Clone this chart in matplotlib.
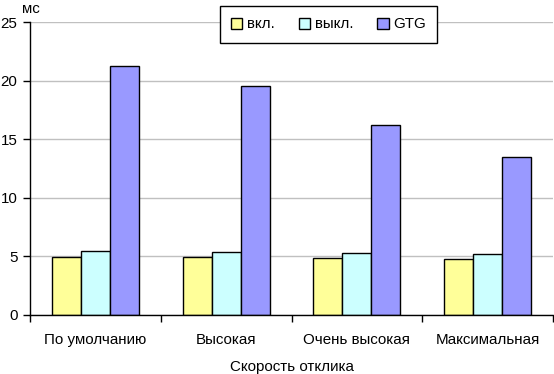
import matplotlib
matplotlib.use("Agg")
import matplotlib.pyplot as plt
import numpy as np

plt.rcParams['font.family'] = ['Liberation Sans', 'DejaVu Sans']

categories = ["По умолчанию", "Высокая", "Очень высокая", "Максимальная"]
series_names = ["вкл.", "выкл.", "GTG"]
vkl = [4.95, 4.95, 4.85, 4.78]
vykl = [5.45, 5.37, 5.28, 5.2]
gtg = [21.25, 19.55, 16.25, 13.5]
colors = ["#FFFF99", "#CCFFFF", "#9999FF"]
yticks = [0, 5, 10, 15, 20, 25]

fs = 10.9
fig = plt.figure(figsize=(5.54, 3.74), dpi=100)
ax = fig.add_axes([30/554, 1-315/374, 523/554, 293/374])

x = np.arange(len(categories))
w = 0.222
for i, (vals, name, c) in enumerate(zip([vkl, vykl, gtg], series_names, colors)):
    ax.bar(x + (i-1)*w, vals, width=w, color=c, edgecolor="black", linewidth=1.0, label=name, zorder=3)

ax.set_xlim(-0.5, len(categories)-0.5)
ax.set_ylim(0, 25)
ax.set_yticks(yticks)
ax.set_yticklabels([str(t) for t in yticks], fontsize=fs)
ax.set_xticks(x)
ax.set_xticklabels(categories, fontsize=fs)
ax.set_xticks(np.arange(len(categories)+1) - 0.5, minor=True)
ax.tick_params(axis='x', which='major', length=0, pad=13)
ax.tick_params(axis='x', which='minor', length=5, width=1, direction='out')
ax.tick_params(axis='y', length=5, width=1, direction='out', pad=4)
ax.grid(axis='y', color='#c0c0c0', linewidth=1, zorder=0)
for s in ['top', 'right']:
    ax.spines[s].set_visible(False)
for s in ['left', 'bottom']:
    ax.spines[s].set_linewidth(1)
    ax.spines[s].set_zorder(4)

ax.set_xlabel("Скорость отклика", fontsize=fs, labelpad=9)
fig.text(22/554, 1-9/374, "мс", fontsize=fs, ha='left', va='center')

leg = fig.legend(loc='center', bbox_to_anchor=(328.5/554, 1-24.5/374), ncol=3,
                 fontsize=fs, frameon=True, fancybox=False, edgecolor='black',
                 handlelength=0.75, handleheight=0.75, handletextpad=0.3,
                 columnspacing=1.6, borderpad=0.75, framealpha=1)
leg.get_frame().set_linewidth(1)

fig.savefig("out.png", dpi=100)
